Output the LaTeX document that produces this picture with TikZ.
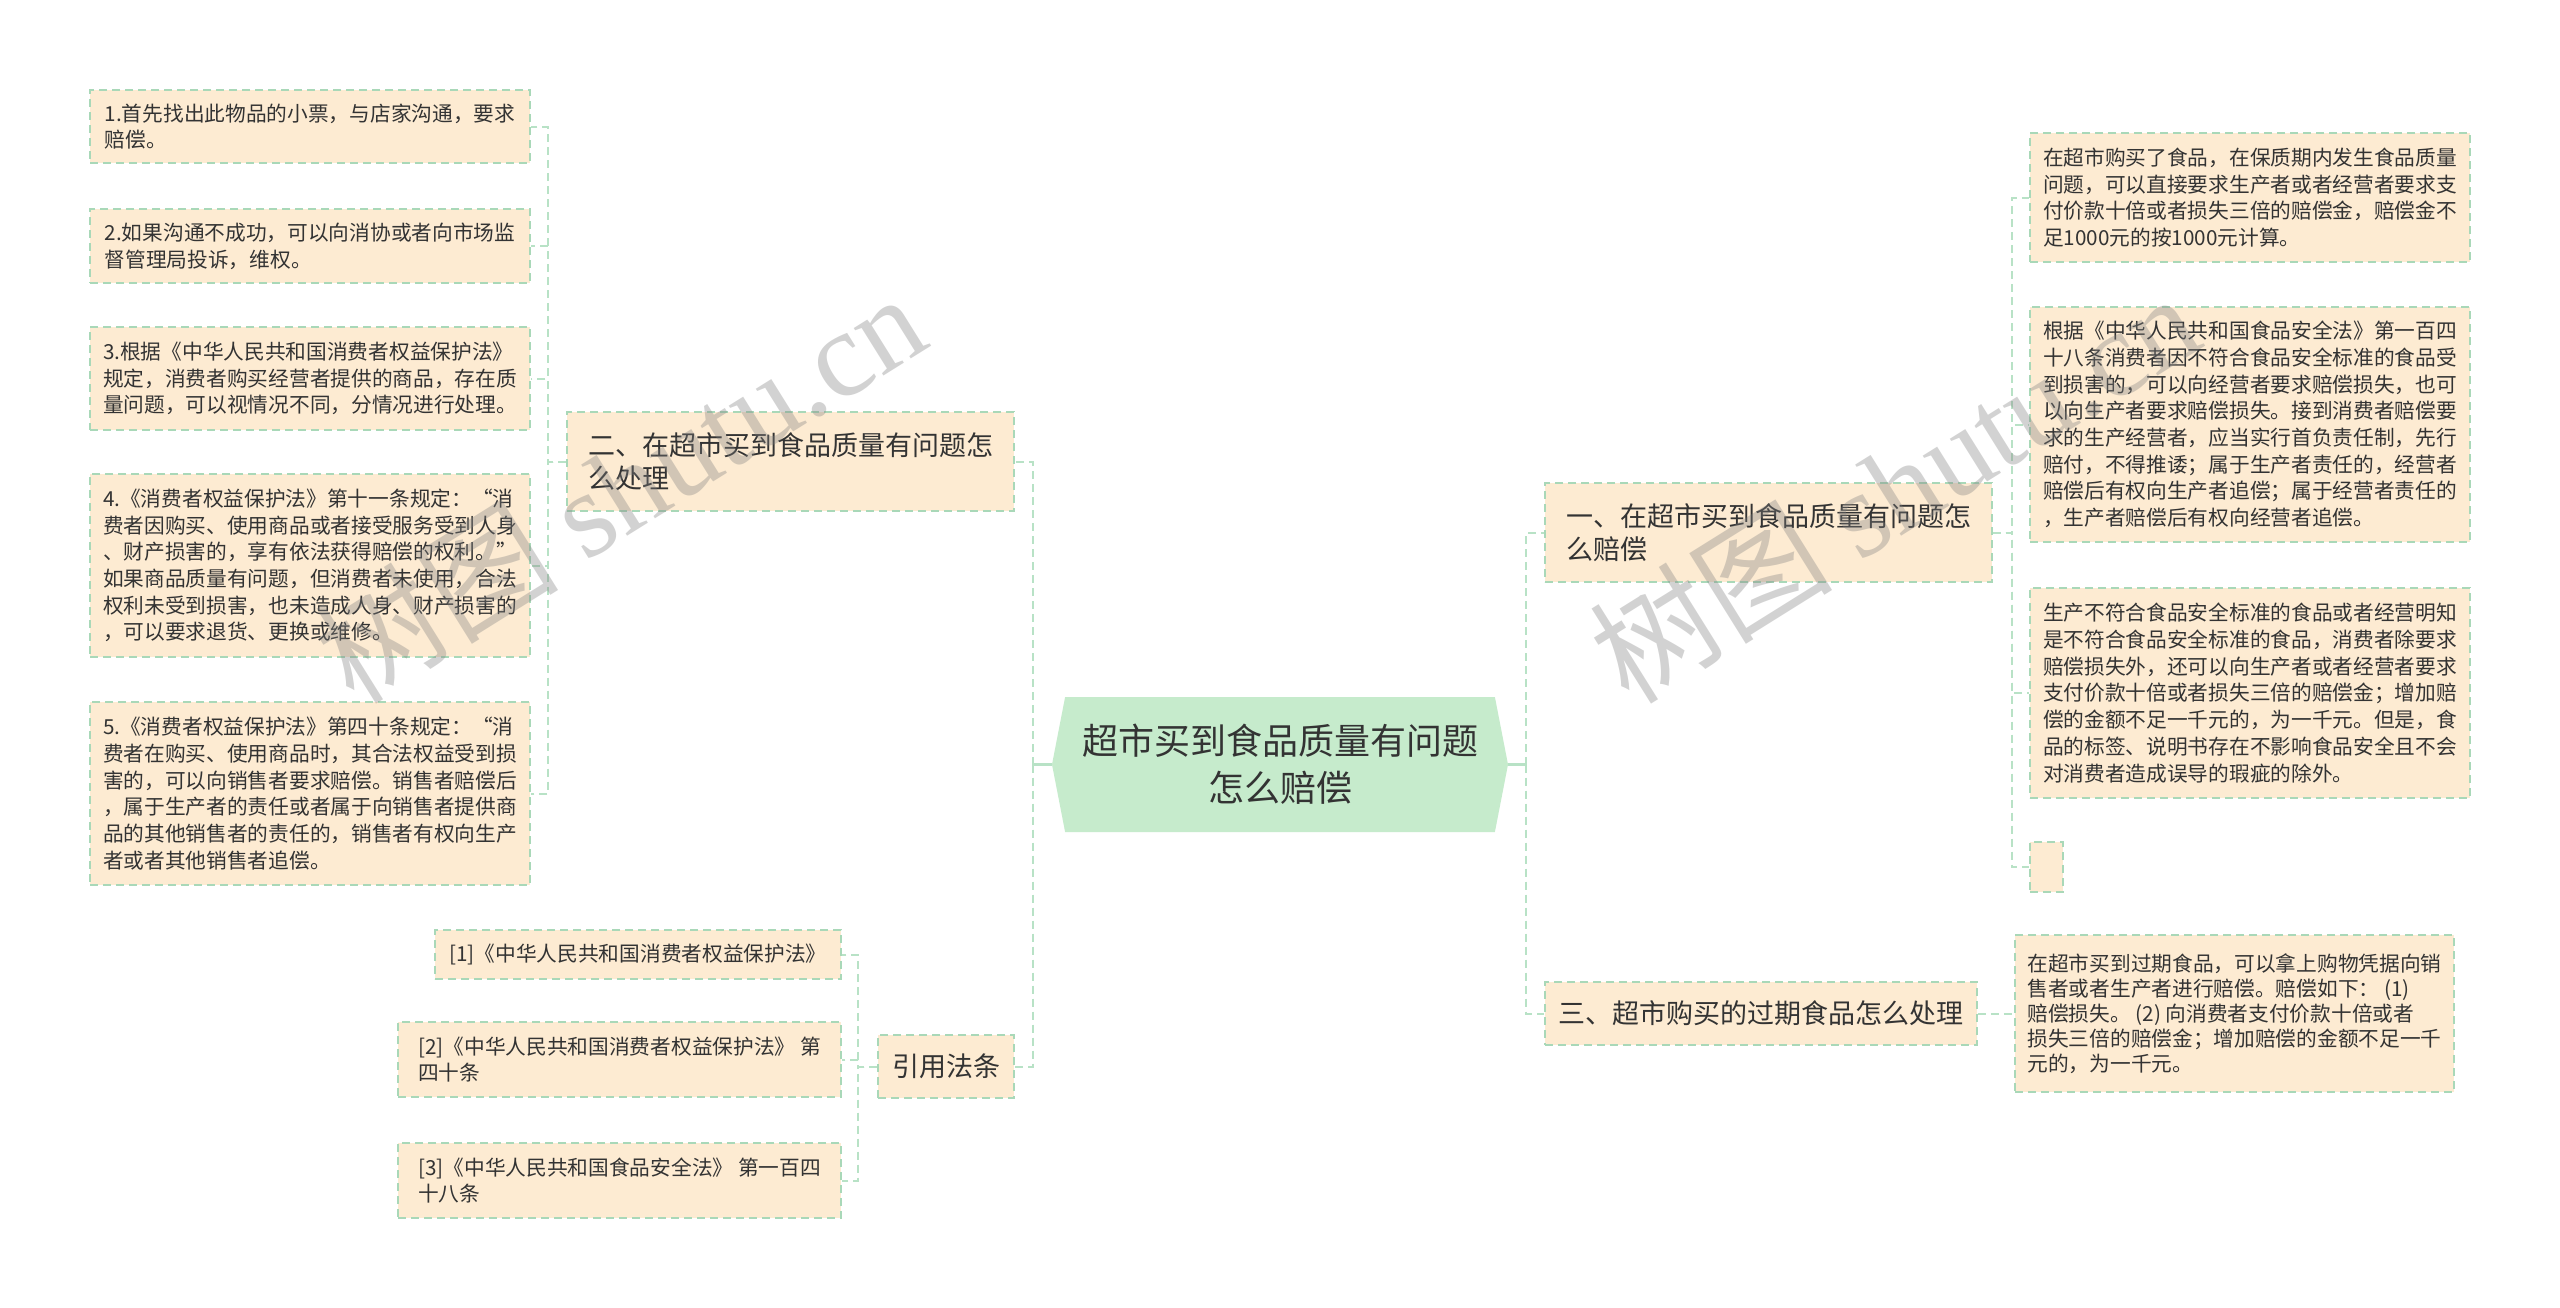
\documentclass[tikz,border=0pt]{standalone}
\usepackage{fontspec}
\setmainfont{Noto Sans CJK SC}
\newfontfamily\wmlatin{Liberation Serif}
\usetikzlibrary{shapes.symbols}
\definecolor{leaffill}{HTML}{FDEBD2}
\definecolor{boxline}{HTML}{A9D8B8}
\definecolor{linkgreen}{HTML}{B8E2C6}
\definecolor{rootfill}{HTML}{C6EBCC}
\definecolor{inkgray}{HTML}{333333}
\begin{document}
\begin{tikzpicture}[x=1pt, y=-1pt]
      \tikzstyle{leaf}=[draw=boxline, dash pattern=on 8pt off 5pt, line width=1.5pt,
                        fill=leaffill, text=inkgray, align=left, inner sep=0pt,
                        font=\fontsize{20.7}{26.7}\selectfont]
      \tikzstyle{branch}=[leaf, font=\fontsize{27}{33}\selectfont]
      \tikzstyle{root}=[shape=signal, signal to=west and east, signal pointer angle=158,
                        fill=rootfill, text=inkgray, align=center, inner sep=0pt,
                        font=\fontsize{36}{47}\selectfont]
      \tikzstyle{link}=[draw=linkgreen, line width=2pt, dash pattern=on 8pt off 5pt]
      \tikzstyle{stub}=[draw=linkgreen, line width=3pt]
      \tikzstyle{wmark}=[text=gray, opacity=0.35, rotate=32, anchor=base west,
                         font=\fontsize{122}{122}\selectfont]
      \fill[white] (0,0) rectangle (2560,1307);
      \useasboundingbox (0,0) rectangle (2560,1307);
      % centre
      \node[root, minimum width=456, minimum height=135] (root) at (1280, 764.5)
           {超市买到食品质量有问题\\怎么赔偿};
      % left side
      \node[branch, minimum width=447, minimum height=99] (b2) at (790.5, 461.5)
           {二、在超市买到食品质量有问题怎\\么处理};
      \node[leaf, minimum width=440, minimum height=73] (l1) at (310, 126.5)
           {1.首先找出此物品的小票，与店家沟通，要求\\赔偿。};
      \node[leaf, minimum width=440, minimum height=74] (l2) at (310, 246)
           {2.如果沟通不成功，可以向消协或者向市场监\\督管理局投诉，维权。};
      \node[leaf, minimum width=440, minimum height=103] (l3) at (310, 378.5)
           {3.根据《中华人民共和国消费者权益保护法》\\规定，消费者购买经营者提供的商品，存在质\\量问题，可以视情况不同，分情况进行处理。};
      \node[leaf, minimum width=440, minimum height=183] (l4) at (310, 565.5)
           {4.《消费者权益保护法》第十一条规定：“消\\费者因购买、使用商品或者接受服务受到人身\\、财产损害的，享有依法获得赔偿的权利。”\\如果商品质量有问题，但消费者未使用，合法\\权利未受到损害，也未造成人身、财产损害的\\，可以要求退货、更换或维修。};
      \node[leaf, minimum width=440, minimum height=183] (l5) at (310, 793.5)
           {5.《消费者权益保护法》第四十条规定：“消\\费者在购买、使用商品时，其合法权益受到损\\害的，可以向销售者要求赔偿。销售者赔偿后\\，属于生产者的责任或者属于向销售者提供商\\品的其他销售者的责任的，销售者有权向生产\\者或者其他销售者追偿。};
      \node[branch, minimum width=136, minimum height=63] (law) at (946, 1066.5) {引用法条};
      \node[leaf, minimum width=406, minimum height=49] (ref1) at (638, 954.5)
           {[1]《中华人民共和国消费者权益保护法》};
      \node[leaf, minimum width=443, minimum height=75] (ref2) at (619.5, 1059.5)
           {[2]《中华人民共和国消费者权益保护法》 第\\四十条};
      \node[leaf, minimum width=443, minimum height=75] (ref3) at (619.5, 1180.5)
           {[3]《中华人民共和国食品安全法》 第一百四\\十八条};
      % right side
      \node[branch, minimum width=447, minimum height=99] (b1) at (1768.5, 532.5)
           {一、在超市买到食品质量有问题怎\\么赔偿};
      \node[leaf, minimum width=440, minimum height=129] (ra) at (2250, 197.5)
           {在超市购买了食品，在保质期内发生食品质量\\问题，可以直接要求生产者或者经营者要求支\\付价款十倍或者损失三倍的赔偿金，赔偿金不\\足1000元的按1000元计算。};
      \node[leaf, minimum width=440, minimum height=235] (rb) at (2250, 424.5)
           {根据《中华人民共和国食品安全法》第一百四\\十八条消费者因不符合食品安全标准的食品受\\到损害的，可以向经营者要求赔偿损失，也可\\以向生产者要求赔偿损失。接到消费者赔偿要\\求的生产经营者，应当实行首负责任制，先行\\赔付，不得推诿；属于生产者责任的，经营者\\赔偿后有权向生产者追偿；属于经营者责任的\\，生产者赔偿后有权向经营者追偿。};
      \node[leaf, minimum width=440, minimum height=210] (rc) at (2250, 693)
           {生产不符合食品安全标准的食品或者经营明知\\是不符合食品安全标准的食品，消费者除要求\\赔偿损失外，还可以向生产者或者经营者要求\\支付价款十倍或者损失三倍的赔偿金；增加赔\\偿的金额不足一千元的，为一千元。但是，食\\品的标签、说明书存在不影响食品安全且不会\\对消费者造成误导的瑕疵的除外。};
      \node[leaf, minimum width=33, minimum height=50] (rd) at (2046.5, 867) {};
      \node[branch, minimum width=432, minimum height=63] (b3) at (1761, 1013.5)
           {三、超市购买的过期食品怎么处理};
      \node[leaf, minimum width=439, minimum height=157,
            font=\fontsize{20.7}{25}\selectfont] (expired) at (2234.5, 1013.5)
           {在超市买到过期食品，可以拿上购物凭据向销\\售者或者生产者进行赔偿。赔偿如下： (1)\\赔偿损失。 (2) 向消费者支付价款十倍或者\\损失三倍的赔偿金；增加赔偿的金额不足一千\\元的，为一千元。};
      % connectors
      \draw[stub] (root.west) -- ++(-19, 0) coordinate (lbus);
      \draw[stub] (root.east) -- ++(18, 0) coordinate (rbus);
      \draw[link] (lbus) |- (b2.east);
      \draw[link] (lbus) |- (law.east);
      \draw[link] (rbus) |- (b1.west);
      \draw[link] (rbus) |- (b3.west);
      \foreach \leafname in {l1, l2, l3, l4, l5}
        \draw[link] (b2.west) -- ++(-18, 0) |- (\leafname.east);
      \foreach \refname in {ref1, ref2, ref3}
        \draw[link] (law.west) -- ++(-19, 0) |- (\refname.west -| ref2.east);
      \foreach \leafname in {ra, rb, rc, rd}
        \draw[link] (b1.east) -- ++(19, 0) |- (\leafname.west);
      \draw[link] (b3.east) -- (expired.west);
      % watermarks
      \node[wmark] (wm1) at (352, 708) {树图 {\wmlatin shutu.cn}};
      \node[wmark] (wm2) at (1626, 708) {树图 {\wmlatin shutu.cn}};
\end{tikzpicture}
\end{document}
